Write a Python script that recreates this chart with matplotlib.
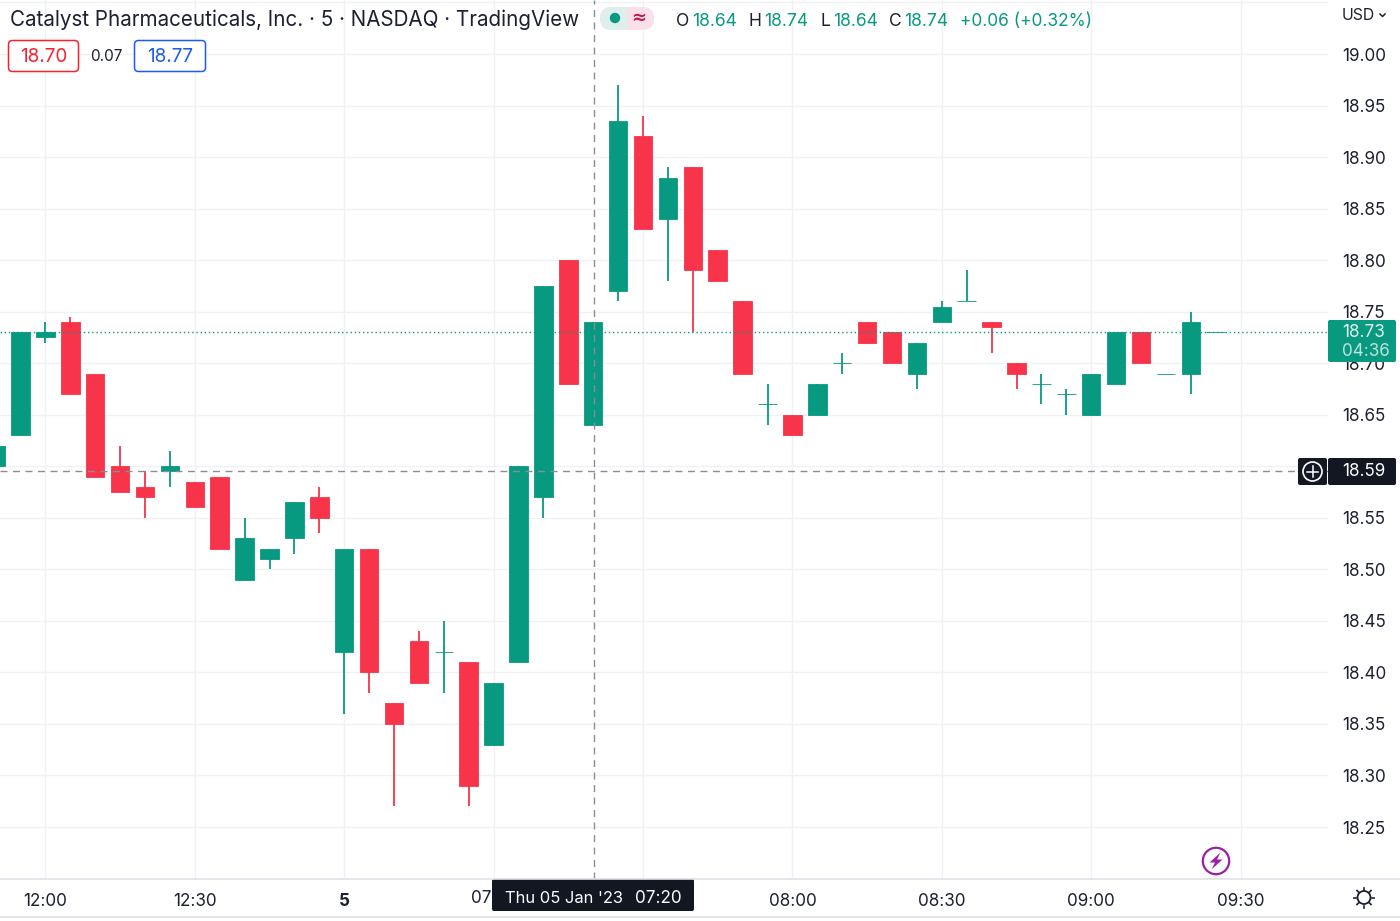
import matplotlib
matplotlib.use('Agg')
import matplotlib.pyplot as plt
from matplotlib.patches import Circle, FancyBboxPatch, Polygon, Rectangle

plt.rcParams['font.family'] = ['Inter', 'DejaVu Sans']

# one entry per 5 minute bar, index 0 is 12:00
bar_index = list(range(-2, 48))
opens = [18.60, 18.63, 18.725, 18.74, 18.69, 18.60, 18.58, 18.595, 18.585, 18.59,
         18.49, 18.51, 18.53, 18.57, 18.42, 18.52, 18.37, 18.43, 18.42, 18.41,
         18.33, 18.41, 18.57, 18.80, 18.64, 18.77, 18.92, 18.84, 18.89, 18.81,
         18.76, 18.66, 18.65, 18.65, 18.70, 18.74, 18.73, 18.69, 18.74, 18.76,
         18.74, 18.70, 18.68, 18.67, 18.65, 18.68, 18.73, 18.69, 18.69, 18.73]
highs = [18.62, 18.73, 18.74, 18.745, 18.69, 18.62, 18.595, 18.615, 18.585, 18.59,
         18.55, 18.52, 18.565, 18.58, 18.52, 18.52, 18.37, 18.44, 18.45, 18.41,
         18.39, 18.60, 18.775, 18.80, 18.74, 18.97, 18.94, 18.89, 18.89, 18.81,
         18.76, 18.68, 18.65, 18.68, 18.71, 18.74, 18.73, 18.72, 18.76, 18.79,
         18.74, 18.70, 18.69, 18.675, 18.69, 18.73, 18.73, 18.69, 18.75, 18.73]
lows = [18.60, 18.63, 18.72, 18.67, 18.59, 18.575, 18.55, 18.58, 18.56, 18.52,
        18.49, 18.50, 18.515, 18.535, 18.36, 18.38, 18.27, 18.39, 18.38, 18.27,
        18.33, 18.41, 18.55, 18.68, 18.64, 18.76, 18.83, 18.78, 18.73, 18.78,
        18.69, 18.64, 18.63, 18.65, 18.69, 18.72, 18.70, 18.675, 18.74, 18.76,
        18.71, 18.675, 18.66, 18.65, 18.65, 18.68, 18.70, 18.69, 18.67, 18.73]
closes = [18.62, 18.73, 18.73, 18.67, 18.59, 18.575, 18.57, 18.60, 18.56, 18.52,
          18.53, 18.52, 18.565, 18.55, 18.52, 18.40, 18.35, 18.39, 18.42, 18.29,
          18.39, 18.60, 18.775, 18.68, 18.74, 18.935, 18.83, 18.88, 18.79, 18.78,
          18.69, 18.66, 18.63, 18.68, 18.70, 18.72, 18.70, 18.72, 18.755, 18.76,
          18.735, 18.69, 18.68, 18.67, 18.69, 18.73, 18.70, 18.69, 18.74, 18.73]

price_ticks = [19.05, 19.00, 18.95, 18.90, 18.85, 18.80, 18.75, 18.70, 18.65, 18.60,
               18.55, 18.50, 18.45, 18.40, 18.35, 18.30, 18.25]
price_labels = ['', '19.00', '18.95', '18.90', '18.85', '18.80', '18.75', '18.70', '18.65', '',
                '18.55', '18.50', '18.45', '18.40', '18.35', '18.30', '18.25']
# 07:00 and 07:30 sit under the crosshair date box
time_ticks = [0, 6, 12, 18, 24, 30, 36, 42, 48]
time_labels = ['12:00', '12:30', '5', '', '', '08:00', '08:30', '09:00', '09:30']

last_price = 18.73
cross_index = 22
cross_price = 18.595

GREEN = '#089981'
RED = '#F7344A'
DARK = '#131722'
GRID = '#F0F1F4'
INK = '#1C2030'

fig = plt.figure(figsize=(14, 9.21), dpi=100)
ax = fig.add_axes([0, 1 - 879 / 921, 1328 / 1400, 879 / 921])
ax.set_xlim((0 - 45.4) / 24.9, (1328 - 45.4) / 24.9)
ax.set_ylim(19 - (879 - 54) / 1030.67, 19 + 54 / 1030.67)

ax.set_xticks(time_ticks, time_labels)
ax.set_yticks(price_ticks, price_labels)
ax.yaxis.tick_right()
ax.tick_params(length=0, labelsize=12.3, labelcolor=INK)
ax.tick_params(axis='y', pad=10)
ax.tick_params(axis='x', pad=10)
ax.get_xticklabels()[2].set_fontweight('bold')
ax.grid(color=GRID, linewidth=1.0)
ax.set_axisbelow(True)
for s in ax.spines.values():
    s.set_visible(False)

colors = [GREEN if c >= o else RED for o, c in zip(opens, closes)]
ax.vlines(bar_index, lows, highs, colors=colors, linewidth=1.3, zorder=3)
ax.bar(bar_index, [c - o for o, c in zip(opens, closes)], bottom=opens, width=0.74,
       color=colors, edgecolor=colors, linewidth=0.6, zorder=4)

ax.axhline(last_price, color=GREEN, linewidth=1, linestyle=(0, (1, 2)), zorder=5)
ax.axhline(cross_price, color='#8A8D96', linewidth=1, linestyle=(0, (5, 4)), zorder=5)
ax.axvline(cross_index + 0.02, color='#8A8D96', linewidth=1, linestyle=(0, (5, 4)), zorder=5)

# overlay in pixel coordinates for the TradingView furniture
ov = fig.add_axes([0, 0, 1, 1], zorder=5)
ov.set_xlim(0, 1400)
ov.set_ylim(921, 0)
ov.axis('off')
ov.patch.set_alpha(0)


def box(x, y, w, h, fc, ec='none', r=3, lw=1.0):
    ov.add_patch(FancyBboxPatch((x + r, y + r), w - 2 * r, h - 2 * r, boxstyle=f'round,pad={r}',
                                fc=fc, ec=ec, lw=lw, mutation_aspect=1))


def label(x, y, s, color=INK, size=12.3, ha='left', **kw):
    ov.text(x, y, s, color=color, fontsize=size, ha=ha, va='center', **kw)


# axis borders
ov.plot([0, 1400], [879, 879], color='#DFE1E8', lw=1.2)
ov.plot([0, 1400], [917, 917], color='#DFE1E8', lw=1.2)

# header
label(10, 20, 'Catalyst Pharmaceuticals, Inc. · 5 · NASDAQ · TradingView', size=14.85)
box(8.5, 40.5, 70, 31, 'white', '#F7222F', r=4, lw=1.1)
label(44, 57, '18.70', color='#F7222F', size=13.6, ha='center')
label(106.5, 56.5, '0.07', size=11, ha='center')
box(134.5, 40.5, 71, 31, 'white', '#1E5BF0', r=4, lw=1.1)
label(170.5, 57, '18.77', color='#1E5BF0', size=13.6, ha='center')

# market status chip
box(600, 7, 54, 23, '#FBE0E7', r=11)
ov.add_patch(Rectangle((611, 7), 16, 23, fc='#DDF0EC', ec='none'))
ov.add_patch(Circle((611.5, 18.5), 11.5, fc='#DDF0EC', ec='none'))
ov.add_patch(Circle((615, 18), 5.2, fc=GREEN, ec='none'))
label(639, 18, '≈', color='#C2185B', size=13, ha='center', family=['DejaVu Sans'], fontweight='bold')

# OHLC readout
for lx, ltr, vx, val in [(676, 'O', 692, '18.64'), (748, 'H', 764, '18.74'),
                         (820, 'L', 833, '18.64'), (889, 'C', 904, '18.74')]:
    label(lx, 21, ltr, size=12.6)
    label(vx, 21, val, color=GREEN, size=12.6)
label(960, 21, '+0.06 (+0.32%)', color=GREEN, size=12.5)

# price scale
label(1342, 15, 'USD', size=11.4)
ov.plot([1380, 1382.5, 1385], [14, 16.5, 14], color=INK, lw=1.1)
box(1328, 320, 68, 42, GREEN, r=2)
label(1342, 332, '18.73', color='#E3F3F0')
label(1342, 351, '04:36', color='#BFE3DB')
box(1298, 458, 29, 27, DARK, r=2)
box(1328, 458, 68, 27, DARK, r=2)
label(1342, 471.5, '18.59', color='white')
ov.add_patch(Circle((1312.5, 471.5), 9.5, fc='none', ec='white', lw=1.2))
ov.plot([1312.5, 1312.5], [466, 477], color='white', lw=1.1)
ov.plot([1307, 1318], [471.5, 471.5], color='white', lw=1.1)

# time scale crosshair label
label(471, 898.5, '07')
box(492, 879, 202, 32, DARK, r=2)
label(505, 898, "Thu 05 Jan '23", color='white', size=11.9)
label(635, 898, '07:20', color='white')

# lightning badge
ov.add_patch(Circle((1216, 861), 13.2, fc='white', ec='#9C1FA8', lw=1.6))
ov.add_patch(Polygon([(1220.5, 852.5), (1209.5, 862.5), (1215, 862.5), (1211.5, 869.5),
                      (1222.5, 859.5), (1217, 859.5)], fc='#9C1FA8', ec='none'))

# theme toggle
ov.add_patch(Circle((1364, 897.5), 6.5, fc='none', ec=INK, lw=1.3))
for x0, y0, x1, y1 in [(1364, 887.5, 1364, 889.5), (1364, 905.5, 1364, 907.5),
                       (1354, 897.5, 1356, 897.5), (1372, 897.5, 1374, 897.5),
                       (1357, 890.5, 1358.5, 892), (1369.5, 903, 1371, 904.5),
                       (1357, 904.5, 1358.5, 903), (1369.5, 892, 1371, 890.5)]:
    ov.plot([x0, x1], [y0, y1], color=INK, lw=1.2)

fig.savefig('out.png', dpi=100)
